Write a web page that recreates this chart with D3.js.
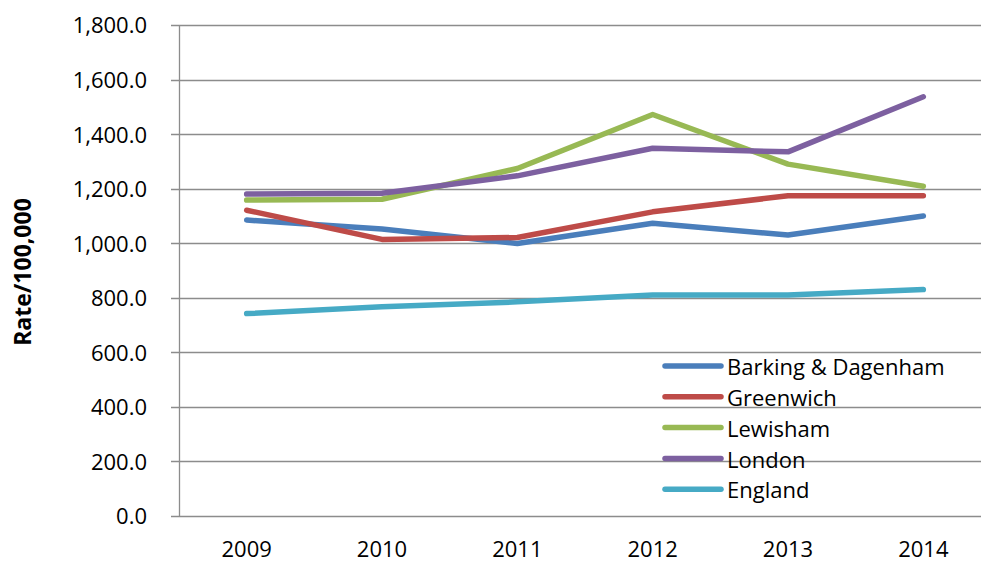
<!DOCTYPE html>
<html>
<head>
<meta charset="utf-8">
<script src="https://cdn.jsdelivr.net/npm/d3@7"></script>
<style>
  html, body { margin: 0; padding: 0; background: #fff; }
  svg { display: block; }
  text { font-family: "Open Sans", sans-serif; fill: #000; }
</style>
</head>
<body>
<svg id="chart" width="981" height="563"></svg>
<script>
const years = ["2009", "2010", "2011", "2012", "2013", "2014"];
const barking = [1085, 1052, 999, 1073, 1030, 1100];
const greenwich = [1121, 1014, 1021, 1115, 1174, 1174];
const lewisham = [1158, 1161, 1274, 1472, 1290, 1209];
const london = [1180, 1183, 1247, 1348, 1335, 1537];
const england = [742, 767, 785, 810, 810, 830];
const seriesNames = ["Barking & Dagenham", "Greenwich", "Lewisham", "London", "England"];
const seriesColors = ["#4a7ebb", "#be4b48", "#98b954", "#7d60a0", "#46aac5"];
const yTicks = [0, 200, 400, 600, 800, 1000, 1200, 1400, 1600, 1800];
const yTitle = "Rate/100,000";

const seriesValues = [barking, greenwich, lewisham, london, england];
const series = seriesNames.map((n, i) => ({ name: n, color: seriesColors[i], values: seriesValues[i] }));

const svg = d3.select("#chart");
const mLeft = 179, mRight = 991, mTop = 25, mBottom = 516;

const x = d3.scaleBand().domain(years).range([mLeft, mRight]);
const y = d3.scaleLinear().domain([0, 1800]).range([mBottom, mTop]);

// gridlines
svg.append("g")
  .selectAll("line")
  .data(yTicks)
  .join("line")
  .attr("x1", mLeft - 8)
  .attr("x2", mRight)
  .attr("y1", d => Math.round(y(d)) + 0.5)
  .attr("y2", d => Math.round(y(d)) + 0.5)
  .attr("stroke", "#8c8c8c")
  .attr("stroke-width", 1.3);

// y axis line
svg.append("line")
  .attr("x1", mLeft + 0.5).attr("x2", mLeft + 0.5)
  .attr("y1", y(1800)).attr("y2", y(0))
  .attr("stroke", "#8c8c8c").attr("stroke-width", 1.3);

// y axis labels
const yAxis = d3.axisLeft(y).tickValues(yTicks).tickFormat(d3.format(",.1f")).tickSize(0).tickPadding(32);
const gy = svg.append("g").attr("transform", `translate(${mLeft},0)`).call(yAxis);
gy.select(".domain").remove();
gy.selectAll("text")
  .attr("font-family", "Open Sans, sans-serif")
  .attr("font-size", 22)
  .attr("fill", "#000")
  .attr("dy", "0.36em");

// x axis labels
const xAxis = d3.axisBottom(x).tickSize(0).tickPadding(0);
const gx = svg.append("g").attr("transform", `translate(0,${mBottom})`).call(xAxis);
gx.select(".domain").remove();
gx.selectAll("text")
  .attr("font-family", "Open Sans, sans-serif")
  .attr("font-size", 22)
  .attr("fill", "#000")
  .attr("y", 41)
  .attr("dy", 0);

// y title
svg.append("text")
  .attr("transform", `translate(31,272) rotate(-90)`)
  .attr("text-anchor", "middle")
  .attr("font-size", 23)
  .attr("font-weight", "bold")
  .text(yTitle);

// lines
const line = d3.line()
  .x((d, i) => x(years[i]) + x.bandwidth() / 2)
  .y(d => y(d));

svg.append("g")
  .selectAll("path")
  .data(series)
  .join("path")
  .attr("d", d => line(d.values))
  .attr("fill", "none")
  .attr("stroke", d => d.color)
  .attr("stroke-width", 5.5)
  .attr("stroke-linecap", "round")
  .attr("stroke-linejoin", "round");

// legend
const legend = svg.append("g").attr("transform", "translate(665,366)");
const rows = legend.selectAll("g")
  .data(series)
  .join("g")
  .attr("transform", (d, i) => `translate(0,${i * 30.8})`);
rows.append("line")
  .attr("x1", 0).attr("x2", 56)
  .attr("y1", 0).attr("y2", 0)
  .attr("stroke", d => d.color)
  .attr("stroke-width", 5.5)
  .attr("stroke-linecap", "round");
rows.append("text")
  .attr("x", 62)
  .attr("y", 0)
  .attr("dy", "0.42em")
  .attr("font-size", 22)
  .text(d => d.name);
</script>
</body>
</html>
